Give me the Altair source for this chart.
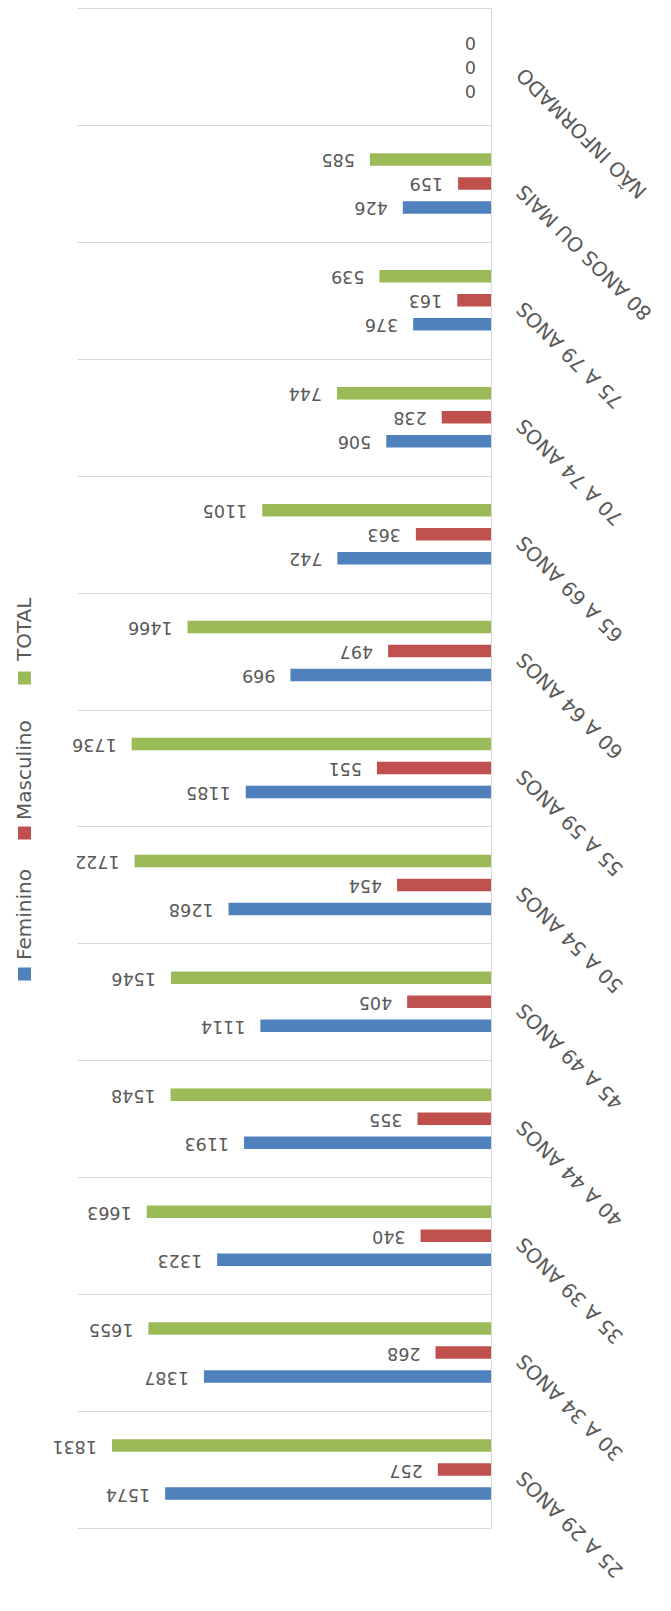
import altair as alt
import pandas as pd

categories = ["25 A 29 ANOS", "30 A 34 ANOS", "35 A 39 ANOS", "40 A 44 ANOS",
              "45 A 49 ANOS", "50 A 54 ANOS", "55 A 59 ANOS", "60 A 64 ANOS",
              "65 A 69 ANOS", "70 A 74 ANOS", "75 A 79 ANOS", "80 ANOS OU MAIS",
              "NÃO INFORMADO"]
feminino = [1574, 1387, 1323, 1193, 1114, 1268, 1185, 969, 742, 506, 376, 426, 0]
masculino = [257, 268, 340, 355, 405, 454, 551, 497, 363, 238, 163, 159, 0]
total = [1831, 1655, 1663, 1548, 1546, 1722, 1736, 1466, 1105, 744, 539, 585, 0]
series = ["Feminino", "Masculino", "TOTAL"]
colors = ["#4F81BD", "#C0504D", "#9BBB59"]

rows = []
for i, c in enumerate(categories):
    for s, vals in zip(series, [feminino, masculino, total]):
        rows.append({"cat": c, "series": s, "value": vals[i]})
df = pd.DataFrame(rows)

order_top = categories[::-1]
offset_order = ["TOTAL", "Masculino", "Feminino"]
GREY = "#595959"
FONT = "DejaVu Sans"

base = alt.Chart(df).encode(
    y=alt.Y("cat:N", sort=order_top,
            scale=alt.Scale(paddingInner=0, paddingOuter=0),
            axis=alt.Axis(orient="right", title=None, ticks=False, tickBand="extent",
                          grid=True, gridColor="#D9D9D9", gridWidth=1,
                          domainColor="#D9D9D9", domainWidth=1,
                          labelAngle=225, labelAlign="right", labelBaseline="middle",
                          labelPadding=29, labelOffset=4, labelFontSize=20,
                          labelColor=GREY, labelFont=FONT, labelLimit=400)),
    yOffset=alt.YOffset("series:N", sort=offset_order,
                        scale=alt.Scale(paddingInner=0.13, paddingOuter=1)),
    x=alt.X("value:Q", scale=alt.Scale(domain=[0, 2000], reverse=True), axis=None),
)

bars = base.mark_bar(size=12.5).encode(
    color=alt.Color("series:N", scale=alt.Scale(domain=series, range=colors), legend=None)
)
labels = base.mark_text(angle=180, align="left", baseline="middle", dx=15,
                        fontSize=17.5, font=FONT, color=GREY).encode(text="value:Q")

# manual rotated legend (square centre y, text start y) in plot pixels
leg_pos = {"TOTAL": (670, 653), "Masculino": (825, 812), "Feminino": (966, 952)}
legend_layers = []
for s, col in zip(series, colors):
    sq_y, tx_y = leg_pos[s]
    ldf = pd.DataFrame({"series": [s]})
    legend_layers.append(
        alt.Chart(ldf).mark_square(size=169, opacity=1, color=col).encode(
            x=alt.value(-52.5), y=alt.value(sq_y))
    )
    legend_layers.append(
        alt.Chart(ldf).mark_text(angle=270, align="left", baseline="middle",
                                 fontSize=20, font=FONT, color=GREY).encode(
            x=alt.value(-52.5), y=alt.value(tx_y), text="series:N")
    )

chart = alt.layer(bars, labels, *legend_layers).properties(
    width=414, height=1520,
    padding={"left": 69, "top": 0, "right": 172, "bottom": 74},
    autosize="none",
).configure_view(stroke=None)

chart.save("out.html", embed_options={"renderer": "svg", "actions": False})
